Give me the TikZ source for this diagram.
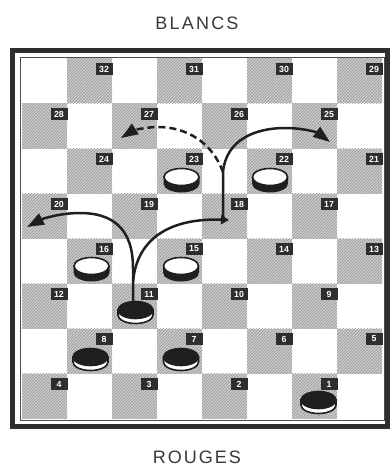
\documentclass[tikz,border=0pt]{standalone}
\usepackage{fontspec}
\setmainfont{Liberation Sans}
\usetikzlibrary{patterns,arrows.meta}
\begin{document}
\begin{tikzpicture}[x=1pt,y=-1pt,
  numlbl/.style={fill=black!82, text=white, font=\bfseries\fontsize{8.8}{9}\selectfont, inner sep=0pt, minimum width=17pt, minimum height=12.5pt},
  title/.style={text=black!78, font=\fontsize{18}{18}\selectfont, anchor=base, inner sep=0pt},
  mv/.style={line width=2.5pt, black!88, line join=round},
  bigtip/.style={-{Triangle[length=17pt,width=12pt]}},
  wpiece/.pic={
    \fill[black!88] (-18,0) -- (-18,6.5) arc[start angle=180,end angle=0,x radius=18,y radius=9] -- (18,0) -- cycle;
    \draw[line width=1.6pt, black!88, fill=white] (0,0) ellipse[x radius=17.5,y radius=8.5];
  },
  bpiece/.pic={
    \draw[line width=1.6pt, black!88, fill=white] (-17.5,0) -- (-17.5,5) arc[start angle=180,end angle=0,x radius=17.5,y radius=8.5] -- (17.5,0) -- cycle;
    \fill[black!88] (0,0) ellipse[x radius=18.3,y radius=9.3];
  }]
\useasboundingbox (0,0) rectangle (390,468);
\fill[white] (0,0) rectangle (390,468);

% titles
\node[title] (blancs) at (197,30) {B\kern2.2pt L\kern2.2pt A\kern2.2pt N\kern2.2pt C\kern2.2pt S};
\node[title] (rouges) at (197,463) {R\kern2pt O\kern2pt U\kern2pt G\kern2pt E\kern2pt S};

% board squares
\foreach \r in {0,...,7} {
  \foreach \c in {0,...,7} {
    \pgfmathtruncatemacro\odd{mod(\r+\c,2)}
    \ifnum\odd=1
      \pgfmathtruncatemacro\num{32-4*\r-floor(\c/2)}
      \pgfmathsetmacro\xl{22+45*\c}
      \pgfmathsetmacro\yt{58.5+45*\r}
      \fill[black!20] (\xl,\yt) rectangle ++(45,45);
      \fill[pattern=north east lines, pattern color=black!42] (\xl,\yt) rectangle ++(45,45);
      \node[numlbl] (n\num) at (\xl+37,\yt+10.5) {\num};
    \fi
  }
}

% frame
\draw[line width=0.8pt, black!70] (20,57) rectangle (384,420.5);
\draw[line width=5pt, black!82] (12.5,50.5) rectangle (387.5,426.5);

% pieces
\pic at (181.5,177) {wpiece};
\pic at (270,177) {wpiece};
\pic at (91.5,266) {wpiece};
\pic at (181,266) {wpiece};
\pic at (135.5,310) {bpiece};
\pic at (90.5,357) {bpiece};
\pic at (181,357) {bpiece};
\pic at (318.5,400) {bpiece};

% move coordinates
\coordinate (s11) at (133,303);
\coordinate (k11) at (133,282);
\coordinate (t20) at (27,227);
\coordinate (j18) at (229,220);
\coordinate (b18) at (223,222);
\coordinate (y18) at (223,172);
\coordinate (t25) at (330,142);
\coordinate (t27) at (121,138);

% jumps
\draw[mv, bigtip] (s11) -- (133,268) .. controls (133,228) and (112,213) .. (80,213) .. controls (60,213) and (42,219) .. (t20);
\draw[mv, -{Triangle[length=8pt,width=9pt]}] (k11) .. controls (137,235) and (175,218) .. (j18);
\draw[mv, bigtip] (b18) -- (y18) .. controls (226,140) and (255,128) .. (285,128) .. controls (305,128) and (318,133) .. (t25);
\draw[mv, bigtip, dash pattern=on 7pt off 4pt] (y18) .. controls (212,142) and (186,127) .. (158,127) .. controls (145,127) and (132,131) .. (t27);
\end{tikzpicture}
\end{document}
